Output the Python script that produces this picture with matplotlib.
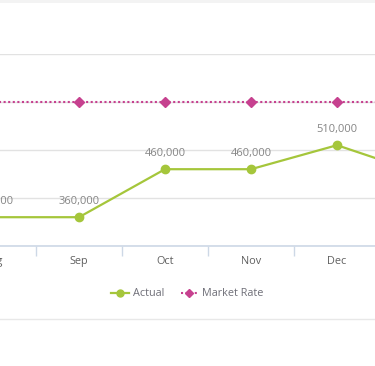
import matplotlib
matplotlib.use("Agg")
import matplotlib.pyplot as plt
from matplotlib.lines import Line2D
import numpy as np

months = ['Aug', 'Sep', 'Oct', 'Nov', 'Dec', 'Jan']
actual = [360000, 360000, 460000, 460000, 510000, 450000]
market_rate = [600000, 600000, 600000, 600000, 600000, 600000]
yticks = [300000, 400000, 500000, 600000, 700000]

plt.rcParams['font.family'] = ['Open Sans', 'DejaVu Sans']

W, H = 375, 366
fig = plt.figure(figsize=(W / 100, H / 100), dpi=100)
fig.patch.set_facecolor('white')

# top strip and bottom border
fig.add_artist(plt.Rectangle((0, 1 - 3 / H), 1, 3 / H, transform=fig.transFigure,
                             facecolor='#f3f3f3', edgecolor='none'))
fig.add_artist(Line2D([0, 1], [1 - 319 / H] * 2, transform=fig.transFigure,
                      color='#e8e8e8', lw=1))

# axes extends beyond the visible figure (the chart is cropped)
left_px, right_px = -60, 435
ax_bottom = 1 - 246 / H
ax_top = 1 - 54 / H
ax = fig.add_axes([left_px / W, ax_bottom, (right_px - left_px) / W, ax_top - ax_bottom])
ax.set_facecolor('none')

x = np.arange(len(months))
sep_px, step_px = 79, 86
x0 = 1 - (sep_px - left_px) / step_px
x1 = 1 + (right_px - sep_px) / step_px

green = '#a5c63b'
magenta = '#c6418f'

ax.plot(x, market_rate, color=magenta, lw=1.5, ls=(0, (1, 1.2)), marker='D',
        markersize=5, zorder=3)
ax.plot(x, actual, color=green, lw=1.6, marker='o', markersize=6, zorder=4)

for xi, v in zip(x, actual):
    ax.annotate(f"{v:,}", (xi, v), xytext=(0, 7), textcoords='offset points',
                ha='center', va='bottom', fontsize=8, color='#858585')

ax.set_yticks(yticks)
ax.yaxis.grid(True, color='#e2e2e2', lw=1)
ax.tick_params(axis='y', left=False, labelleft=False)
ax.set_xticks(x)
ax.set_xticklabels(months)
ax.set_xticks(x[:-1] + 0.5, minor=True)
ax.tick_params(axis='x', which='major', length=0, pad=7, labelsize=7.8, labelcolor='#606060')
ax.tick_params(axis='x', which='minor', length=7, width=1, color='#cdd8e6')
for s in ['left', 'right', 'top']:
    ax.spines[s].set_visible(False)
ax.spines['bottom'].set_color('#cdd8e6')
ax.spines['bottom'].set_linewidth(1.2)
ax.set_axisbelow(True)
ax.set_xlim(x0, x1)
ax.set_ylim(yticks[0], yticks[-1])

handles = [
    Line2D([0], [0], color=green, lw=1.6, marker='o', markersize=5),
    Line2D([0], [0], color=magenta, lw=1.5, ls=(0, (1, 1.2)), marker='D', markersize=4),
]
fig.legend(handles, ['Actual', 'Market Rate'], loc='center', bbox_to_anchor=(0.5, 1 - 294 / H),
           ncol=2, frameon=False, fontsize=7.8, labelcolor='#6f6f78', handlelength=1.6,
           handletextpad=0.4, columnspacing=1.5)

fig.savefig('out.png', dpi=100, facecolor='white')
